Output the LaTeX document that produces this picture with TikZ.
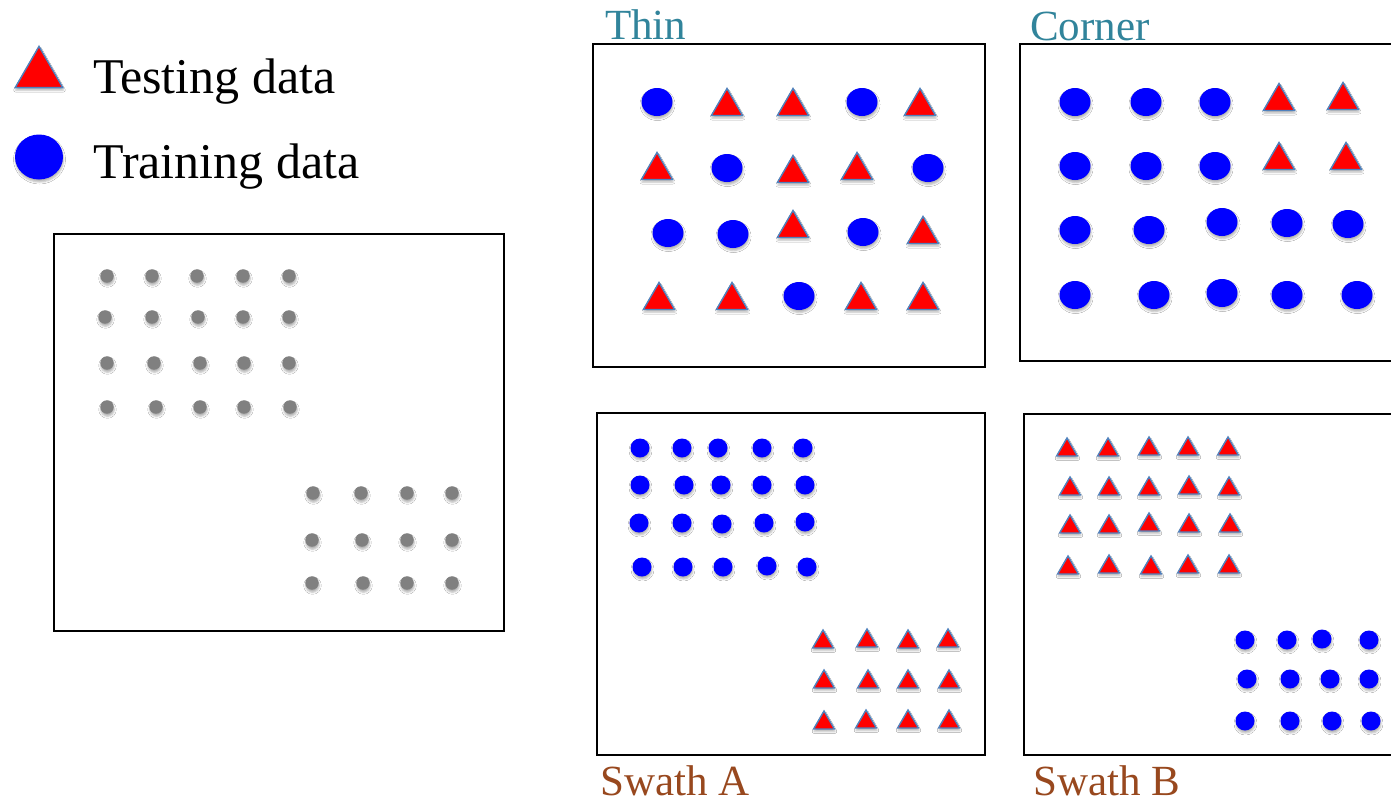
\documentclass[tikz,border=0pt]{standalone}
\usepackage{fontspec}
\setmainfont{Liberation Serif}
\usetikzlibrary{shapes.geometric,shadows.blur}
\definecolor{trired}{RGB}{255,0,0}
\definecolor{triedge}{RGB}{79,129,189}
\definecolor{dotblue}{RGB}{0,0,255}
\definecolor{dotgray}{RGB}{128,128,128}
\definecolor{headteal}{RGB}{49,132,155}
\definecolor{headbrown}{RGB}{152,72,30}

\tikzset{
  softshadow/.style={blur shadow={shadow xshift=0.5pt, shadow yshift=-2.5pt,
      shadow blur radius=2pt, shadow opacity=30}},
  % triangle marker: #1 = circumscribed diameter, shifted so its box is centred
  testpt/.style={regular polygon, regular polygon sides=3, fill=trired,
      draw=triedge, line width=1.4pt, inner sep=0pt, minimum size=#1,
      yshift=-#1/8, softshadow},
  trainpt/.style 2 args={ellipse, fill=dotblue, inner sep=0pt,
      minimum width=#1, minimum height=#2, softshadow},
  graypt/.style={circle, fill=dotgray, inner sep=0pt, minimum size=13.5pt, softshadow},
  frame/.style={draw=black, line width=1.8pt},
  legendtext/.style={anchor=base west, inner sep=0pt, font=\fontsize{50}{60}\selectfont},
  headlabel/.style={anchor=base west, inner sep=0pt, font=\fontsize{43}{50}\selectfont},
}

\begin{document}
\begin{tikzpicture}[x=1pt,y=-1pt]
\fill[white] (0,0) rectangle (1391,804);
\clip (0,0) rectangle (1391,804);

% legend
\node[testpt=55pt] (legtri) at (39,67) {};
\node[trainpt={48pt}{45pt}] (legdot) at (39,157) {};
\node[legendtext] (testlbl) at (93,93) {Testing data};
\node[legendtext] (trainlbl) at (93,178) {Training data};

% frames
\draw[frame] (54,234) rectangle (504,631);
\draw[frame] (593,44) rectangle (985,367);
\draw[frame] (1020,44) rectangle (1400,361);
\draw[frame] (597,413) rectangle (985,755);
\draw[frame] (1024,414) rectangle (1400,755);

% panel titles
\node[headlabel, text=headteal] (thinlbl) at (605,39) {Thin};
\node[headlabel, text=headteal] (cornerlbl) at (1030,40) {Corner};
\node[headlabel, text=headbrown] (swathAlbl) at (600,795) {Swath A};
\node[headlabel, text=headbrown] (swathBlbl) at (1033,795) {Swath B};

% full sample grid (gray)
\foreach \x/\y [count=\k] in {107/276,152/276,197/276,243/276,289/276,
    105/317,152/317,198/317,243/317,289/317,
    107/363,154/363,200/363,244/363,289/363,
    107/407,156/407,200/407,244/407,290/407,
    313/493,361/493,407/493,452/493,
    312/540,362/540,407/540,452/540,
    312/583,363/583,407/583,452/583}
  \node[graypt] (all\k) at (\x,\y) {};

% Thin split
\foreach \x/\y [count=\k] in {657/102,862/102,727/168,928/168,668/233,733/234,863/232,799/296}
  \node[trainpt={31pt}{28pt}] (thinTr\k) at (\x,\y) {};
\foreach \x/\y [count=\k] in {727/102,793/102,920/102,657/166,793/169,857/166,
    793/224,923/230,659/296,732/296,861/296,923/296}
  \node[testpt=36pt] (thinTe\k) at (\x,\y) {};

% Corner split
\foreach \x/\y [count=\k] in {1075/102,1146/102,1215/102,1075/166,1146/166,1215/166,
    1075/230,1149/230,1222/222,1287/223,1348/224,
    1075/295,1154/295,1222/293,1287/295,1357/295}
  \node[trainpt={31pt}{28pt}] (cornerTr\k) at (\x,\y) {};
\foreach \x/\y [count=\k] in {1279/97,1343/96,1279/156,1346/156}
  \node[testpt=36pt] (cornerTe\k) at (\x,\y) {};

% Swath A split
\foreach \x/\y [count=\k] in {640/448,682/448,718/448,762/448,803/448,
    640/485,684/485,721/485,762/485,805/485,
    639/523,682/523,722/524,764/523,805/522,
    642/567,683/567,723/567,767/566,807/567}
  \node[trainpt={19pt}{19pt}] (swathATr\k) at (\x,\y) {};
\foreach \x/\y [count=\k] in {823/639,867/638,908/639,948/638,
    824/679,868/679,908/679,949/679,
    824/720,866/719,908/719,949/719}
  \node[testpt=24pt] (swathATe\k) at (\x,\y) {};

% Swath B split
\foreach \x/\y [count=\k] in {1067/447,1108/447,1149/446,1188/446,1228/446,
    1070/486,1109/486,1149/486,1189/485,1229/486,
    1070/524,1109/524,1149/522,1189/523,1230/523,
    1068/565,1109/564,1151/565,1188/564,1229/564}
  \node[testpt=24pt] (swathBTe\k) at (\x,\y) {};
\foreach \x/\y [count=\k] in {1245/640,1287/640,1322/639,1369/640,
    1247/679,1290/679,1330/679,1369/679,
    1245/721,1290/721,1332/721,1371/721}
  \node[trainpt={19pt}{19pt}] (swathBTr\k) at (\x,\y) {};
\end{tikzpicture}
\end{document}
